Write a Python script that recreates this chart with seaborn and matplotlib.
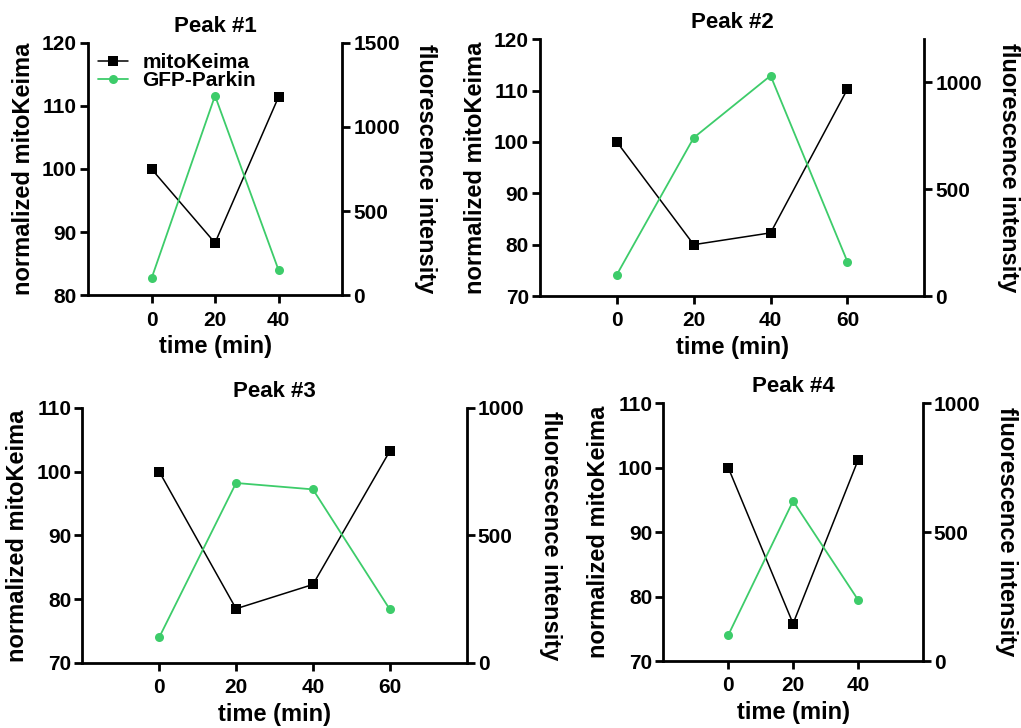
import pandas as pd
import seaborn as sns
import matplotlib.pyplot as plt

# values
time_3 = [0, 20, 40]
time_4 = [0, 20, 40, 60]

peak1_keima = [100, 88.3, 111.4]
peak1_gfp = [100, 1185, 150]
peak2_keima = [100, 80.0, 82.3, 110.3]
peak2_gfp = [100, 740, 1030, 160]
peak3_keima = [100, 78.5, 82.3, 103.2]
peak3_gfp = [100, 705, 680, 210]
peak4_keima = [100, 75.8, 101.1]
peak4_gfp = [100, 620, 238]

titles = ["Peak #1", "Peak #2", "Peak #3", "Peak #4"]

sns.set_style("ticks", {"axes.edgecolor": "black", "axes.labelcolor": "black",
                        "text.color": "black", "xtick.color": "black", "ytick.color": "black"})
plt.rcParams['font.family'] = ['Liberation Sans', 'DejaVu Sans']
plt.rcParams['font.weight'] = 'bold'
plt.rcParams['axes.labelweight'] = 'bold'
plt.rcParams['axes.titleweight'] = 'bold'

GREEN = "#3dcc6a"

panels = [
    dict(t=time_3, keima=peak1_keima, gfp=peak1_gfp, ylim=(80, 120), yticks=[80, 90, 100, 110, 120],
         rlim=(0, 1500), rticks=[0, 500, 1000, 1500], xlim=(-20, 60),
         pos=[0.0862, 0.5944, 0.2488, 0.347], legend=True),
    dict(t=time_4, keima=peak2_keima, gfp=peak2_gfp, ylim=(70, 120), yticks=[70, 80, 90, 100, 110, 120],
         rlim=(0, 1200), rticks=[0, 500, 1000], xlim=(-20, 80),
         pos=[0.5289, 0.5934, 0.3764, 0.3526], legend=False),
    dict(t=time_4, keima=peak3_keima, gfp=peak3_gfp, ylim=(70, 110), yticks=[70, 80, 90, 100, 110],
         rlim=(0, 1000), rticks=[0, 500, 1000], xlim=(-20, 80),
         pos=[0.0806, 0.0893, 0.3765, 0.3507], legend=False),
    dict(t=time_3, keima=peak4_keima, gfp=peak4_gfp, ylim=(70, 110), yticks=[70, 80, 90, 100, 110],
         rlim=(0, 1000), rticks=[0, 500, 1000], xlim=(-20, 60),
         pos=[0.6497, 0.0920, 0.2541, 0.3544], legend=False),
]

fig = plt.figure(figsize=(10.21, 7.28), dpi=100)

for p, title in zip(panels, titles):
    df = pd.DataFrame({"time": p["t"], "mitoKeima": p["keima"], "GFP-Parkin": p["gfp"]})
    ax = fig.add_axes(p["pos"])
    ax2 = ax.twinx()

    sns.lineplot(data=df, x="time", y="mitoKeima", ax=ax, color="black", marker="s",
                 markersize=6.5, markeredgewidth=0, linewidth=1.1, label="mitoKeima", legend=False)
    sns.lineplot(data=df, x="time", y="GFP-Parkin", ax=ax2, color=GREEN, marker="o",
                 markersize=6.5, markeredgewidth=0, linewidth=1.3, label="GFP-Parkin", legend=False)

    ax.set_xlim(*p["xlim"])
    ax.set_xticks(p["t"])
    ax.set_ylim(*p["ylim"])
    ax.set_yticks(p["yticks"])
    ax2.set_ylim(*p["rlim"])
    ax2.set_yticks(p["rticks"])

    ax.set_title(title, fontsize=16, pad=8)
    ax.set_xlabel("time (min)", fontsize=17, labelpad=4)
    ax.set_ylabel("normalized mitoKeima", fontsize=17, labelpad=5)
    ax2.set_ylabel("fluorescence intensity", fontsize=17, rotation=270, labelpad=27)

    for a in (ax, ax2):
        a.spines["top"].set_visible(False)
        for s in a.spines.values():
            s.set_linewidth(2)
        a.tick_params(axis="both", width=2, length=6, labelsize=15, direction="out", pad=2)
        for lab in a.get_xticklabels() + a.get_yticklabels():
            lab.set_fontweight("bold")
    ax.tick_params(axis="x", pad=5)
    ax.spines["right"].set_visible(False)
    ax2.spines["left"].set_visible(False)
    ax2.spines["bottom"].set_visible(False)

    if p["legend"]:
        h1, l1 = ax.get_legend_handles_labels()
        h2, l2 = ax2.get_legend_handles_labels()
        leg = ax2.legend(h1 + h2, l1 + l2, loc="upper left", frameon=False, fontsize=15,
                         borderaxespad=0.1, handlelength=1.4, handletextpad=0.7,
                         labelspacing=-0.05, bbox_to_anchor=(0.0, 1.0))
        for txt in leg.get_texts():
            txt.set_fontweight("bold")

fig.savefig("out.png", dpi=100)
